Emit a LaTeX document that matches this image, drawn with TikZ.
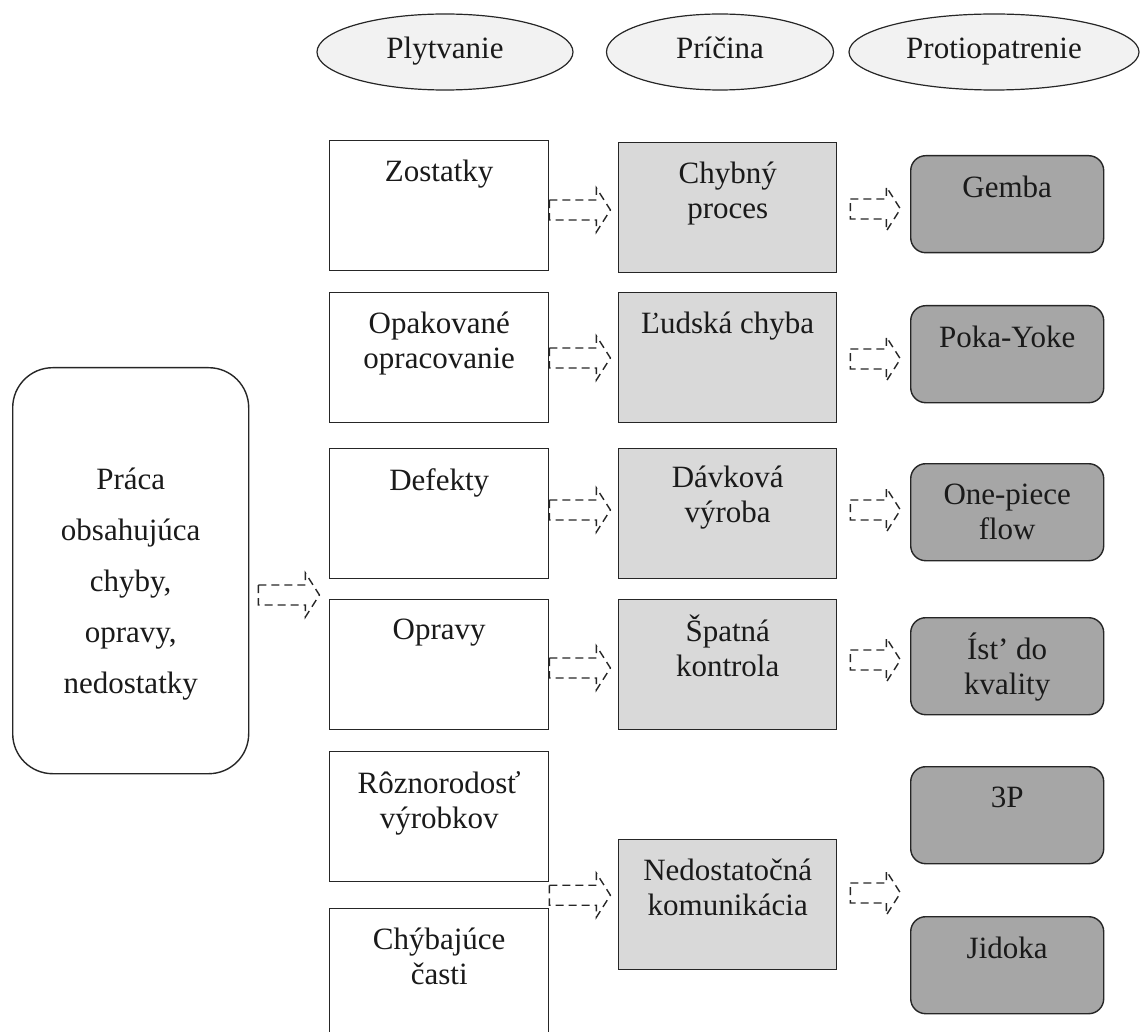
\documentclass[tikz,border=0pt]{standalone}
\usepackage{fontspec}
\setmainfont{Liberation Serif}
\usetikzlibrary{calc,shapes.geometric}

\definecolor{hdrfill}{HTML}{F2F2F2}
\definecolor{causefill}{HTML}{D9D9D9}
\definecolor{fixfill}{HTML}{A6A6A6}
\definecolor{edge}{HTML}{262626}
\definecolor{ink}{HTML}{1A1A1A}

\begin{document}
\begin{tikzpicture}[x=1pt,y=-1pt,
  hdr/.style={ellipse, draw=edge, fill=hdrfill, line width=1.2pt, inner sep=0pt,
    text=ink, text height=21pt, text depth=7pt, font=\fontsize{31}{35}\selectfont},
  wastebox/.style={draw=edge, fill=white, line width=1.4pt, anchor=north west,
    inner sep=0pt, minimum width=219pt, minimum height=130pt},
  causebox/.style={wastebox, fill=causefill, minimum width=218pt},
  fixbox/.style={draw=edge, fill=fixfill, line width=1.4pt, rounded corners=15pt,
    anchor=north west, inner sep=0pt, minimum width=193pt, minimum height=97pt},
  srcbox/.style={draw=edge, fill=white, line width=1.4pt, rounded corners=40pt,
    anchor=north west, inner sep=0pt, minimum width=236pt, minimum height=406pt},
  txt/.style={anchor=north, align=center, inner sep=0pt,
    text=ink, font=\fontsize{31}{35}\selectfont},
  srctxt/.style={txt, font=\fontsize{31}{51}\selectfont},
  dasharrow/.style={draw=edge, line width=1.4pt, dash pattern=on 8pt off 5pt,
    line join=miter},
  pics/blockarrow/.style={code={
    \draw[dasharrow] (0,-10) -- ({#1-14},-10) -- ({#1-14},-22) -- (#1,0)
      -- ({#1-14},22) -- ({#1-14},10) -- (0,10) -- cycle;
  }}
]
\useasboundingbox (0,0) rectangle (1141,1032);

% column headings
\node[hdr, minimum width=256pt, minimum height=76pt] (h1) at (445,52) {Plytvanie};
\node[hdr, minimum width=227pt, minimum height=76pt] (h2) at (720,52) {Príčina};
\node[hdr, minimum width=290pt, minimum height=76pt] (h3) at (994,52) {Protiopatrenie};

% source of the waste
\node[srcbox] (src) at (12,367) {};
\node[srctxt] (srct) at ($(src.north)+(0,101)$)
  {Práca\\obsahujúca\\chyby,\\opravy,\\nedostatky};

% waste (Plytvanie)
\node[wastebox] (w1) at (329,140) {};
\node[wastebox] (w2) at (329,292) {};
\node[wastebox] (w3) at (329,448) {};
\node[wastebox] (w4) at (329,599) {};
\node[wastebox] (w5) at (329,751) {};
\node[wastebox] (w6) at (329,908) {};
\node[txt] (w1t) at ($(w1.north)+(0,20)$) {Zostatky};
\node[txt] (w2t) at ($(w2.north)+(0,20)$) {Opakované\\opracovanie};
\node[txt] (w3t) at ($(w3.north)+(0,20)$) {Defekty};
\node[txt] (w4t) at ($(w4.north)+(0,20)$) {Opravy};
\node[txt] (w5t) at ($(w5.north)+(0,20)$) {Rôznorodosť\\výrobkov};
\node[txt] (w6t) at ($(w6.north)+(0,20)$) {Chýbajúce\\časti};

% causes (Príčina)
\node[causebox] (c1) at (618,142) {};
\node[causebox] (c2) at (618,292) {};
\node[causebox] (c3) at (618,448) {};
\node[causebox] (c4) at (618,599) {};
\node[causebox] (c5) at (618,839) {};
\node[txt] (c1t) at ($(c1.north)+(0,20)$) {Chybný\\proces};
\node[txt] (c2t) at ($(c2.north)+(0,20)$) {Ľudská chyba};
\node[txt] (c3t) at ($(c3.north)+(0,18)$) {Dávková\\výroba};
\node[txt] (c4t) at ($(c4.north)+(0,16)$) {Špatná\\kontrola};
\node[txt] (c5t) at ($(c5.north)+(0,20)$) {Nedostatočná\\komunikácia};

% countermeasures (Protiopatrenie)
\node[fixbox] (f1) at (910,155) {};
\node[fixbox] (f2) at (910,305) {};
\node[fixbox] (f3) at (910,463) {};
\node[fixbox] (f4) at (910,617) {};
\node[fixbox] (f5) at (910,766) {};
\node[fixbox] (f6) at (910,916) {};
\node[txt] (f1t) at ($(f1.north)+(0,21)$) {Gemba};
\node[txt] (f2t) at ($(f2.north)+(0,21)$) {Poka-Yoke};
\node[txt] (f3t) at ($(f3.north)+(0,21)$) {One-piece\\flow};
\node[txt] (f4t) at ($(f4.north)+(0,16)$) {Íst’ do\\kvality};
\node[txt] (f5t) at ($(f5.north)+(0,21)$) {3P};
\node[txt] (f6t) at ($(f6.north)+(0,21)$) {Jidoka};

% dashed block arrows
\pic at ($(src.east |- 0,595)+(9,0)$) {blockarrow=61};
\pic at (w1.east |- 0,210) {blockarrow=61};
\pic at (w2.east |- 0,358) {blockarrow=61};
\pic at (w3.east |- 0,510) {blockarrow=61};
\pic at (w4.east |- 0,668) {blockarrow=61};
\pic at ($(w5.south east)!0.5!(w6.north east)$) {blockarrow=61};
\pic at ($(c1.east |- 0,209)+(13,0)$) {blockarrow=50};
\pic at ($(c2.east |- 0,359)+(13,0)$) {blockarrow=50};
\pic at ($(c3.east |- 0,510)+(13,0)$) {blockarrow=50};
\pic at ($(c4.east |- 0,660)+(13,0)$) {blockarrow=50};
\pic at ($(c5.east |- 0,893)+(13,0)$) {blockarrow=50};
\end{tikzpicture}
\end{document}
